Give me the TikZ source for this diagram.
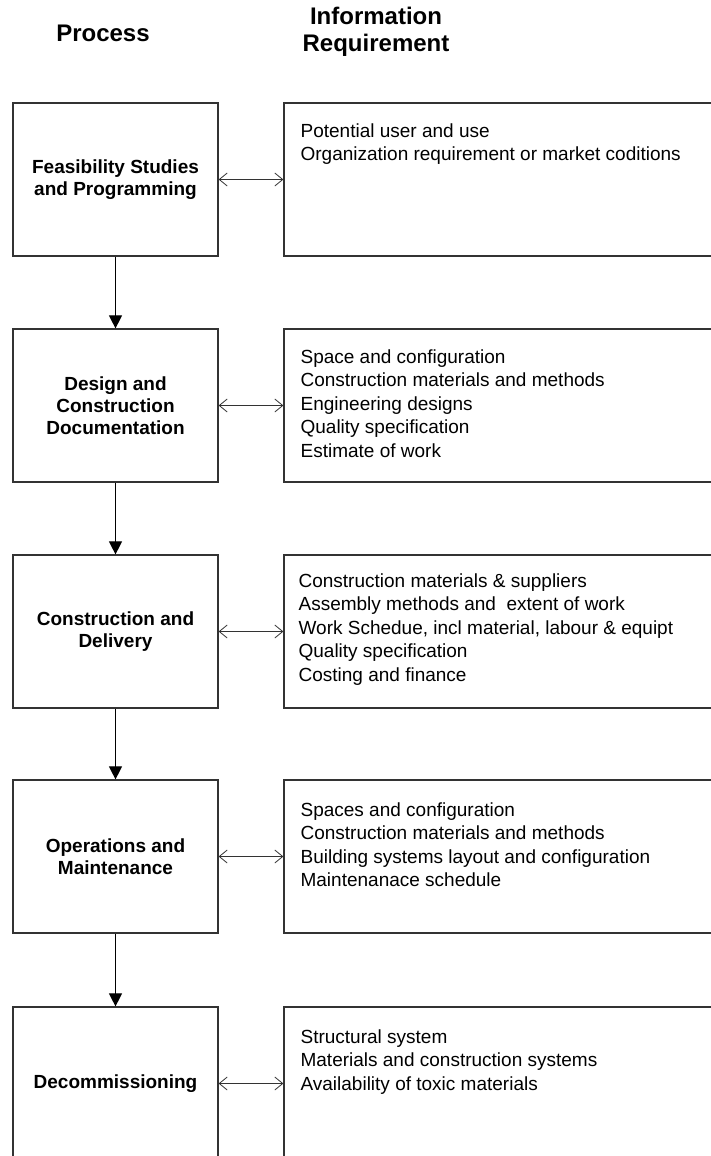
\documentclass[tikz,border=0pt]{standalone}
\usepackage{fontspec}
\setmainfont{Liberation Sans}
\usetikzlibrary{arrows.meta,positioning}

\begin{document}
\begin{tikzpicture}[x=1pt,y=1pt]
\tikzstyle{procbox}=[draw=black!80, line width=1.2pt, minimum width=205pt, minimum height=153pt, inner sep=0pt, align=center, font=\fontsize{19}{22}\selectfont\bfseries];
\tikzstyle{infobox}=[draw=black!80, line width=1.2pt, minimum width=476pt, minimum height=153pt, inner sep=0pt];
\tikzstyle{infotext}=[anchor=north west, align=left, inner sep=0pt, font=\fontsize{19}{23.5}\selectfont];
\tikzstyle{headtext}=[align=center, font=\fontsize{24}{27}\selectfont\bfseries];
\tikzstyle{stagearrow}=[line width=1.1pt, -{Triangle[length=13pt,width=13pt]}];
\tikzstyle{linkarrow}=[line width=0.8pt, draw=black!80, {Straight Barb[length=8pt,width=13pt]}-{Straight Barb[length=8pt,width=13pt]}];

\useasboundingbox (0,0) rectangle (711,-1156);
\clip (0,0) rectangle (711,-1156);

\def \infox{522}; % right boxes run past the page edge

% headings
\node[headtext] (headproc) at (103,-33) {Process};
\node[headtext] (headinfo) at (376,-31.5) {Information\\Requirement};

% stage 1
\node[procbox] (proc1) at (115.5,-179.5) {Feasibility Studies\\and Programming};
\node[infobox] (info1) at (\infox,-179.5) {};
\node[infotext] (text1) at ([xshift=17pt,yshift=-21pt]info1.north west) {Potential user and use\\Organization requirement or market coditions};

% stage 2
\node[procbox] (proc2) at (115.5,-405.5) {Design and\\Construction\\Documentation};
\node[infobox] (info2) at (\infox,-405.5) {};
\node[infotext] (text2) at ([xshift=17pt,yshift=-21pt]info2.north west) {Space and configuration\\Construction materials and methods\\Engineering designs\\Quality specification\\Estimate of work};

% stage 3
\node[procbox] (proc3) at (115.5,-631.5) {Construction and\\Delivery};
\node[infobox] (info3) at (\infox,-631.5) {};
\node[infotext] (text3) at ([xshift=15pt,yshift=-19pt]info3.north west) {Construction materials \& suppliers\\Assembly methods and\ \ extent of work\\Work Schedue, incl material, labour \& equipt\\Quality specification\\Costing and finance};

% stage 4
\node[procbox] (proc4) at (115.5,-856.5) {Operations and\\Maintenance};
\node[infobox] (info4) at (\infox,-856.5) {};
\node[infotext] (text4) at ([xshift=17pt,yshift=-23pt]info4.north west) {Spaces and configuration\\Construction materials and methods\\Building systems layout and configuration\\Maintenanace schedule};

% stage 5
\node[procbox] (proc5) at (115.5,-1083.5) {Decommissioning};
\node[infobox] (info5) at (\infox,-1083.5) {};
\node[infotext] (text5) at ([xshift=17pt,yshift=-23pt]info5.north west) {Structural system\\Materials and construction systems\\Availability of toxic materials};

% flow down the stages
\draw[stagearrow] (proc1) -- (proc2);
\draw[stagearrow] (proc2) -- (proc3);
\draw[stagearrow] (proc3) -- (proc4);
\draw[stagearrow] (proc4) -- (proc5);

% links to information
\draw[linkarrow] (proc1) -- (info1);
\draw[linkarrow] (proc2) -- (info2);
\draw[linkarrow] (proc3) -- (info3);
\draw[linkarrow] (proc4) -- (info4);
\draw[linkarrow] (proc5) -- (info5);

\end{tikzpicture}
\end{document}
